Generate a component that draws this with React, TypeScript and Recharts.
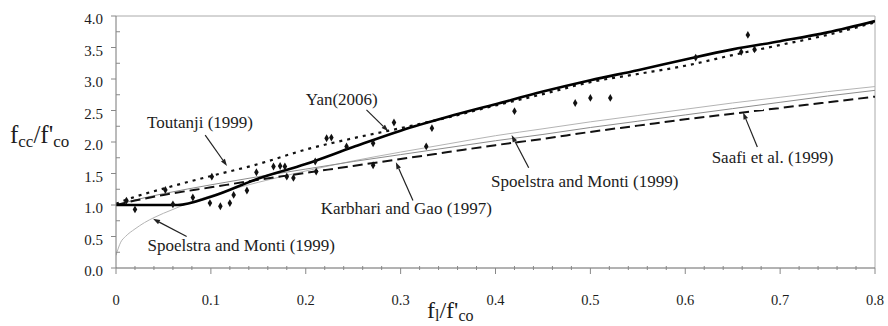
import React from "react";
import {
  ComposedChart,
  Line,
  Scatter,
  XAxis,
  YAxis,
  ZAxis,
  ReferenceLine,
  ReferenceDot,
} from "recharts";

const SERIF = "'Liberation Serif', 'Times New Roman', 'DejaVu Serif', serif";
const INK = "#1c1c1c";

// x = f_l / f'_co, y = f_cc / f'_co
const modelX = [0, 0.02, 0.05, 0.1, 0.15, 0.2, 0.25, 0.3, 0.35, 0.4, 0.45, 0.5, 0.55, 0.6, 0.65, 0.7, 0.75, 0.8];
const toutanjiY = [1.02, 1.13, 1.26, 1.46, 1.65, 1.88, 2.06, 2.22, 2.39, 2.58, 2.76, 2.95, 3.08, 3.21, 3.38, 3.54, 3.7, 3.9];
const karbhariY = [1.0, 1.07, 1.16, 1.28, 1.4, 1.51, 1.62, 1.73, 1.84, 1.95, 2.05, 2.16, 2.26, 2.36, 2.45, 2.54, 2.63, 2.72];
const saafiY = [1.0, 1.08, 1.18, 1.32, 1.45, 1.57, 1.69, 1.8, 1.91, 2.02, 2.12, 2.23, 2.33, 2.43, 2.53, 2.63, 2.73, 2.82];

const yanX = [0, 0.065, 0.1, 0.15, 0.2, 0.25, 0.3, 0.35, 0.4, 0.45, 0.5, 0.55, 0.6, 0.65, 0.7, 0.75, 0.8];
const yanY = [1.0, 1.0, 1.13, 1.42, 1.65, 1.92, 2.18, 2.4, 2.6, 2.8, 2.98, 3.14, 3.31, 3.47, 3.6, 3.74, 3.92];

const spoelstraX = [0, 0.005, 0.01, 0.02, 0.03, 0.04, 0.06, 0.08, 0.1, 0.15, 0.2, 0.25, 0.3, 0.35, 0.4, 0.45, 0.5, 0.55, 0.6, 0.65, 0.7, 0.75, 0.8];
const spoelstraY = [0.2, 0.41, 0.5, 0.62, 0.72, 0.8, 0.93, 1.05, 1.15, 1.36, 1.54, 1.7, 1.84, 1.97, 2.1, 2.21, 2.32, 2.42, 2.52, 2.62, 2.71, 2.8, 2.88];

// test results
const testX = [0.011, 0.02, 0.052, 0.06, 0.081, 0.099, 0.101, 0.11, 0.12, 0.124, 0.138, 0.148, 0.166, 0.173, 0.178, 0.18, 0.187, 0.21, 0.211, 0.222, 0.227, 0.243, 0.271, 0.271, 0.293, 0.327, 0.333, 0.42, 0.484, 0.5, 0.521, 0.611, 0.659, 0.666, 0.673];
const testY = [1.07, 0.93, 1.24, 1.01, 1.12, 1.03, 1.45, 0.98, 1.03, 1.16, 1.23, 1.52, 1.61, 1.62, 1.61, 1.45, 1.43, 1.69, 1.53, 2.06, 2.07, 1.93, 1.98, 1.63, 2.31, 1.93, 2.22, 2.49, 2.62, 2.7, 2.7, 3.34, 3.43, 3.7, 3.47];

const xTickValues = [0, 0.02, 0.04, 0.06, 0.08, 0.1, 0.12, 0.14, 0.16, 0.18, 0.2, 0.22, 0.24, 0.26, 0.28, 0.3, 0.32, 0.34, 0.36, 0.38, 0.4, 0.42, 0.44, 0.46, 0.48, 0.5, 0.52, 0.54, 0.56, 0.58, 0.6, 0.62, 0.64, 0.66, 0.68, 0.7, 0.72, 0.74, 0.76, 0.78, 0.8];
const xTickLabels = ["0", "0.1", "0.2", "0.3", "0.4", "0.5", "0.6", "0.7", "0.8"];
const yTickValues = [0, 0.25, 0.5, 0.75, 1, 1.25, 1.5, 1.75, 2, 2.25, 2.5, 2.75, 3, 3.25, 3.5, 3.75, 4];
const yTickLabels = ["0.0", "0.5", "1.0", "1.5", "2.0", "2.5", "3.0", "3.5", "4.0"];

// annotation text (centre, data units) and pointer from -> to
const notes = [
  { text: "Toutanji (1999)", at: [0.0885, 2.3], from: [0.094, 2.11], to: [0.117, 1.62] },
  { text: "Yan(2006)", at: [0.238, 2.67], from: [0.264, 2.51], to: [0.287, 2.17] },
  { text: "Karbhari and Gao (1997)", at: [0.306, 0.94], from: [0.313, 1.07], to: [0.295, 1.68] },
  { text: "Spoelstra and Monti (1999)", at: [0.494, 1.37], from: [0.435, 1.59], to: [0.417, 2.11] },
  { text: "Spoelstra and Monti (1999)", at: [0.132, 0.35], from: [0.0745, 0.5], to: [0.039, 0.78] },
  { text: "Saafi et al. (1999)", at: [0.692, 1.75], from: [0.676, 1.92], to: [0.661, 2.47] },
];

const pts = (xs: number[], ys: number[]) => xs.map((x, i) => ({ x, y: ys[i] }));

const toutanji = pts(modelX, toutanjiY);
const karbhari = pts(modelX, karbhariY);
const saafi = pts(modelX, saafiY);
const yan = pts(yanX, yanY);
const spoelstra = pts(spoelstraX, spoelstraY);
const tests = pts(testX, testY);

const textStyle = { fontFamily: SERIF };

function XTick(props: any) {
  const { x = 0, y = 0, payload } = props;
  const v = payload?.value ?? 0;
  const major = Math.abs(v * 10 - Math.round(v * 10)) < 1e-6;
  return (
    <g>
      <line x1={x} x2={x} y1={major ? y : y - 2} y2={major ? y + 6 : y + 2} stroke="#888" strokeWidth={1} />
      {major && (
        <text x={x} y={y + 37} textAnchor="middle" style={textStyle} fontSize={14.5} fill={INK}>
          {xTickLabels[Math.round(v * 10)]}
        </text>
      )}
    </g>
  );
}

function YTick(props: any) {
  const { x = 0, y = 0, payload } = props;
  const v = payload?.value ?? 0;
  const major = Math.abs(v * 2 - Math.round(v * 2)) < 1e-6;
  return (
    <g>
      <line x1={major ? x - 5 : x} x2={major ? x : x + 4} y1={y} y2={y} stroke="#888" strokeWidth={1} />
      {major && (
        <text x={x - 13} y={y + 8} textAnchor="end" style={textStyle} fontSize={15} fill={INK}>
          {yTickLabels[Math.round(v * 2)]}
        </text>
      )}
    </g>
  );
}

/** Leader line with a small filled head at the curve end. */
function Pointer(props: any) {
  const { x1, y1, x2, y2 } = props;
  if ([x1, y1, x2, y2].some((n) => typeof n !== "number")) return <g />;
  const ang = Math.atan2(y2 - y1, x2 - x1);
  const len = 7;
  const half = 2.4;
  const bx = x2 - len * Math.cos(ang);
  const by = y2 - len * Math.sin(ang);
  const px = -Math.sin(ang) * half;
  const py = Math.cos(ang) * half;
  return (
    <g>
      <line x1={x1} y1={y1} x2={bx} y2={by} stroke="#222" strokeWidth={1.2} />
      <polygon points={`${x2},${y2} ${bx + px},${by + py} ${bx - px},${by - py}`} fill="#222" />
    </g>
  );
}

function NoteText({ text }: { text: string }) {
  return (props: any) => (
    <text
      x={props.cx}
      y={(props.cy ?? 0) + 5}
      textAnchor="middle"
      style={textStyle}
      fontSize={17}
      fill={INK}
    >
      {text}
    </text>
  );
}

export default function App() {
  return (
    <div style={{ position: "absolute", left: 0, top: 0, width: 888, height: 326, background: "#fff", fontFamily: SERIF }}>
      <ComposedChart width={888} height={326} margin={{ top: 16, right: 13, bottom: 0, left: 0 }} style={textStyle}>
        <XAxis
          dataKey="x"
          type="number"
          domain={[0, 0.8]}
          ticks={xTickValues}
          interval={0}
          tick={<XTick />}
          tickLine={false}
          tickSize={0}
          tickMargin={0}
          height={58}
          axisLine={{ stroke: "#666" }}
          allowDataOverflow
        />
        <YAxis
          type="number"
          domain={[0, 4]}
          ticks={yTickValues}
          interval={0}
          tick={<YTick />}
          tickLine={false}
          tickSize={0}
          tickMargin={0}
          width={116}
          axisLine={{ stroke: "#777" }}
          allowDataOverflow
        />
        <ZAxis range={[18, 18]} />
        <ReferenceLine y={4} stroke="#aaa" strokeWidth={1} ifOverflow="extendDomain" />
        <ReferenceLine x={0.8} stroke="#aaa" strokeWidth={1} ifOverflow="extendDomain" />

        <Line data={spoelstra} dataKey="y" type="monotone" stroke="#b4b4b4" strokeWidth={1} dot={false} isAnimationActive={false} />
        <Line data={saafi} dataKey="y" type="monotone" stroke="#8c8c8c" strokeWidth={1} dot={false} isAnimationActive={false} />
        <Line data={karbhari} dataKey="y" type="monotone" stroke="#111" strokeWidth={2} strokeDasharray="10 5" dot={false} isAnimationActive={false} />
        <Line data={toutanji} dataKey="y" type="monotone" stroke="#111" strokeWidth={2.2} strokeDasharray="3 5" dot={false} isAnimationActive={false} />
        <Line data={yan} dataKey="y" type="monotone" stroke="#000" strokeWidth={2.6} dot={false} isAnimationActive={false} />
        <Scatter data={tests} dataKey="y" shape="diamond" fill="#111" isAnimationActive={false} />

        {notes.map((n, i) => (
          <ReferenceLine
            key={`p${i}`}
            segment={[
              { x: n.from[0], y: n.from[1] },
              { x: n.to[0], y: n.to[1] },
            ]}
            stroke="#222"
            shape={<Pointer />}
          />
        ))}
        {notes.map((n, i) => (
          <ReferenceDot key={`t${i}`} x={n.at[0]} y={n.at[1]} r={1} shape={NoteText({ text: n.text })} />
        ))}
      </ComposedChart>
      <svg width={888} height={326} style={{ position: "absolute", left: 0, top: 0, pointerEvents: "none" }}>
        <text x={10} y={143} style={textStyle} fontSize={25} fill={INK}>
          <tspan>f</tspan>
          <tspan fontSize={17} dy={4}>cc</tspan>
          <tspan dy={-4}>/f'</tspan>
          <tspan fontSize={17} dy={4}>co</tspan>
        </text>
        <text x={427} y={318} style={textStyle} fontSize={24} fill={INK}>
          <tspan>f</tspan>
          <tspan fontSize={16} dy={3}>l</tspan>
          <tspan dy={-3}>/f'</tspan>
          <tspan fontSize={16} dy={3}>co</tspan>
        </text>
      </svg>
    </div>
  );
}
